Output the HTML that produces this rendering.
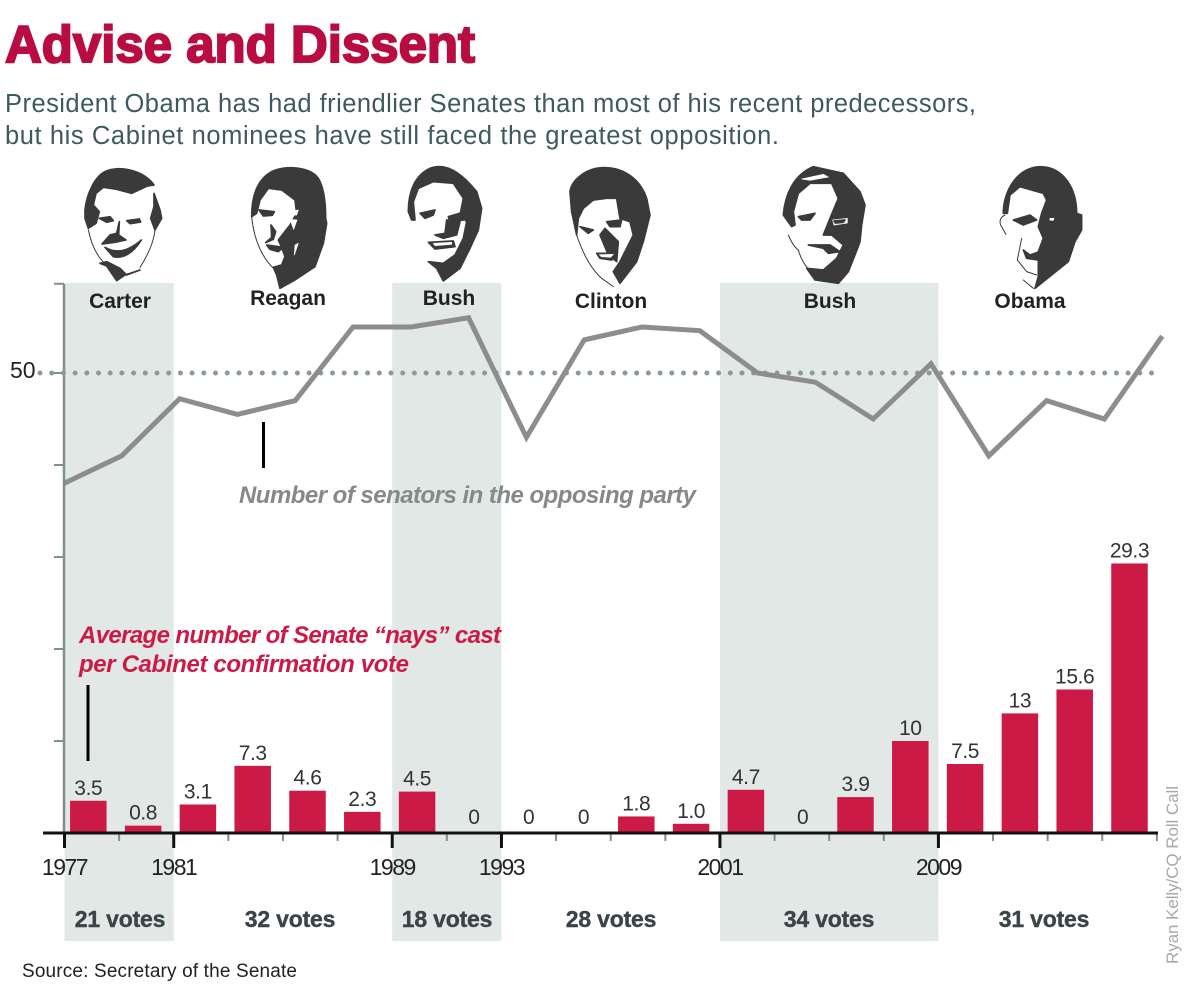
<!DOCTYPE html>
<html lang="en">
<head>
<meta charset="utf-8">
<title>Advise and Dissent</title>
<style>
html,body{margin:0;padding:0;background:#fff;width:1200px;height:1008px;overflow:hidden}
svg{display:block;font-family:"Liberation Sans",sans-serif}
.pres{font-size:21px;font-weight:700;fill:#222;text-anchor:middle}
.votes{font-size:23px;font-weight:700;fill:#3b4547;text-anchor:middle;letter-spacing:-.2px;stroke:#3b4547;stroke-width:.4}
.portrait path.d{fill:#3a3a3a;stroke:#3a3a3a;stroke-width:5;stroke-linejoin:round}
.portrait path.w{fill:#fff;stroke:#fff;stroke-width:2;stroke-linejoin:round}
.portrait path.l{fill:none;stroke:#3a3a3a;stroke-width:3;stroke-linecap:round}
</style>
</head>
<body>
<svg id="chart" width="1200" height="1008" viewBox="0 0 1200 1008" xmlns="http://www.w3.org/2000/svg">
  <g id="bands"></g>

  <text x="5" y="62" font-size="52" font-weight="700" fill="#b80c42" stroke="#b80c42" stroke-width="2" textLength="470" lengthAdjust="spacingAndGlyphs">Advise and Dissent</text>
  <text x="5" y="112" font-size="25.5" fill="#3e5a5c" textLength="971">President Obama has had friendlier Senates than most of his recent predecessors,</text>
  <text x="5" y="144" font-size="25.5" fill="#3e5a5c" textLength="774">but his Cabinet nominees have still faced the greatest opposition.</text>

  <g class="portrait" transform="translate(60,160) scale(.3333)">
    <path class="d" d="M75,150 C80,100 105,50 135,35 C175,15 250,30 282,75 L262,78 L215,100 L170,88 L130,82 L108,100 L100,135 L118,155 L108,190 L85,205 L75,175Z"/>
    <path class="d" d="M282,100 L300,150 L305,175 L285,210 L272,175 L282,140Z"/>
    <path class="d" d="M118,175 L150,170 L160,182 L140,187Z M200,182 L238,177 L242,186 L210,191Z"/>
    <path class="d" d="M178,185 L170,220 L150,225 L126,252 L165,247 L198,240 L176,225Z"/>
    <path class="d" d="M135,262 Q185,292 244,240 Q205,300 160,290Z"/>
    <path class="d" d="M120,310 L140,318 L170,362 L195,345 L240,330 L200,345 L180,325 L140,305Z"/>
    <path class="l" d="M85,210 Q100,280 135,310 M285,210 Q280,260 240,322"/>
  </g>

  <g class="portrait" transform="translate(235,160) scale(.3333)">
    <path class="d" d="M50,170 C50,110 65,60 110,35 C150,15 225,20 250,55 C268,85 272,130 272,175 L275,190 L265,250 L240,320 L180,360 L135,385 L125,345 L115,322 L140,315 L150,290 L140,262 L130,240 L165,195 L185,160 L180,120 L140,90 L100,85 L75,120 L65,160Z"/>
    <path class="w" d="M165,155 L190,150 L185,165 L168,165Z M165,178 L186,180 L176,208Z M180,255 L190,250 L178,285Z"/>
    <path class="d" d="M72,150 L118,155 L112,166 L85,168Z"/>
    <path class="d" d="M108,195 L122,215 L115,238 L92,248 L110,232Z"/>
    <path class="d" d="M95,255 L145,262 L130,275 L105,268Z"/>
    <path class="l" d="M50,170 Q60,270 115,325"/>
  </g>

  <g class="portrait" transform="translate(380,155) scale(.3333)">
    <path class="d" d="M85,170 C85,110 105,60 150,40 C200,20 250,60 290,110 L305,160 L295,225 L270,280 L240,340 L190,378 L170,340 L145,320 L190,325 L225,300 L250,250 L260,200 L240,180 L250,130 L220,85 L160,80 L115,100 L100,140 L105,195 L95,195Z"/>
    <path class="d" d="M120,175 L165,165 L160,180 L135,190Z M205,185 L255,170 L250,195 L210,200Z"/>
    <path class="d" d="M200,195 L195,235 L165,240 L190,250 L230,240 L240,200Z"/>
    <path class="d" d="M145,262 L220,258 L225,275 L165,282Z"/>
    <path class="w" d="M160,265 L215,262 L215,268 L165,272Z"/>
  </g>

  <g class="portrait" transform="translate(380,155) scale(.3333)">
    <path class="d" d="M570,110 C575,75 620,35 680,38 C730,40 780,70 800,130 L810,180 L790,260 L770,320 L720,385 L700,350 L720,320 L760,240 L750,200 L720,190 L710,130 L680,130 L640,135 L610,160 L595,190 L590,240 L575,170Z"/>
    <path class="d" d="M600,215 L640,225 L625,235Z M680,200 L725,195 L720,215 L690,215Z"/>
    <path class="d" d="M675,220 L660,240 L685,300 L710,320 L715,260Z"/>
    <path class="d" d="M650,295 L705,295 L695,315 L660,310Z"/>
    <path class="w" d="M658,299 L700,298 L692,307 L664,305Z"/>
    <path class="l" d="M590,240 Q620,330 665,370 L700,395"/>
  </g>

  <g class="portrait" transform="translate(760,155) scale(.3333)">
    <path class="d" d="M70,180 C75,120 100,60 160,35 L250,55 L300,110 L315,150 L305,210 L300,260 L285,300 L265,350 L235,385 L165,375 L140,340 L190,345 L230,310 L250,270 L215,240 L190,240 L210,190 L235,130 L215,85 L150,85 L115,115 L100,170 L105,210 L95,215Z"/>
    <path class="w" d="M125,72 L190,58 L205,66 L150,76Z M218,195 L262,190 L262,204 L222,210Z"/>
    <path class="d" d="M115,185 L165,175 L150,195 L125,195Z M222,198 L255,195 L250,202 L226,204Z"/>
    <path class="d" d="M145,270 L210,270 L240,290 L205,295 L190,280Z"/>
    <path class="l" d="M85,240 Q100,275 115,285 Q125,320 145,342"/>
  </g>

  <g class="portrait" transform="translate(760,155) scale(.3333)">
    <path class="d" d="M730,175 C730,110 770,38 840,35 C910,35 950,100 950,175 L965,180 L965,225 L945,260 L925,320 L825,400 L835,365 L835,290 L850,250 L835,215 L845,175 L860,135 L850,115 L780,95 L750,120 L742,175Z"/>
    <path class="d" d="M760,195 L810,180 L830,195 L790,210Z"/>
    <path class="d" d="M790,285 L800,310 L835,315 L838,290 L810,300Z"/>
    <path class="w" d="M870,190 L882,190 L880,196 L870,196Z"/>
    <path class="l" d="M735,180 Q715,190 722,210 L738,238 M785,250 Q775,300 772,315 L800,350 L830,360 M790,375 L820,400"/>
  </g>

  <text class="pres" x="120" y="308">Carter</text>
  <text class="pres" x="288" y="305">Reagan</text>
  <text class="pres" x="449" y="305">Bush</text>
  <text class="pres" x="611" y="308">Clinton</text>
  <text class="pres" x="830" y="308">Bush</text>
  <text class="pres" x="1030" y="308">Obama</text>

  <g id="y-axis"></g>
  <text x="10" y="378" font-size="23" fill="#222">50</text>
  <line x1="40" y1="373" x2="1160" y2="373" stroke="#8a9a97" stroke-width="5" stroke-linecap="round" stroke-dasharray="0 11.7"/>
  <g id="senators-line"></g>

  <line x1="263.5" y1="422" x2="263.5" y2="468" stroke="#000" stroke-width="3"/>
  <text x="239" y="503" font-size="24" font-weight="700" font-style="italic" fill="#85898a" textLength="457">Number of senators in the opposing party</text>
  <text x="79" y="643" font-size="24" font-weight="700" font-style="italic" fill="#cc1a47" textLength="422">Average number of Senate “nays” cast</text>
  <text x="79" y="672" font-size="24" font-weight="700" font-style="italic" fill="#cc1a47" textLength="330">per Cabinet confirmation vote</text>
  <line x1="88" y1="685" x2="88" y2="761" stroke="#000" stroke-width="3"/>

  <g id="bars"></g>
  <g id="x-axis"></g>

  <text class="votes" x="120" y="927">21 votes</text>
  <text class="votes" x="290" y="927">32 votes</text>
  <text class="votes" x="447" y="927">18 votes</text>
  <text class="votes" x="611" y="927">28 votes</text>
  <text class="votes" x="829" y="927">34 votes</text>
  <text class="votes" x="1044" y="927">31 votes</text>

  <text x="22" y="977" font-size="19" fill="#222" textLength="275">Source: Secretary of the Senate</text>
  <text x="0" y="0" transform="translate(1178,964) rotate(-90)" font-size="17" fill="#a8a8a8" textLength="178">Ryan Kelly/CQ Roll Call</text>
</svg>

<script>
var termStarts = [1977, 1989, 2001];
var termEnds = [1981, 1993, 2009];
var yTicks = [10, 20, 30, 40, 50, 59.7];
var majorYears = [1977, 1981, 1989, 1993, 2001, 2009];
var congressYears = [1977, 1979, 1981, 1983, 1985, 1987, 1989, 1991, 1993, 1995, 1997, 1999, 2001, 2003, 2005, 2007, 2009, 2011, 2013, 2015];
var naysValues = [3.5, 0.8, 3.1, 7.3, 4.6, 2.3, 4.5, 0, 0, 0, 1.8, 1.0, 4.7, 0, 3.9, 10, 7.5, 13, 15.6, 29.3];
var naysLabels = ["3.5", "0.8", "3.1", "7.3", "4.6", "2.3", "4.5", "0", "0", "0", "1.8", "1.0", "4.7", "0", "3.9", "10", "7.5", "13", "15.6", "29.3"];
var senatorsValues = [38, 41, 47.2, 45.5, 47, 55, 55, 56, 43, 53.6, 55, 54.6, 50, 49, 45, 51, 41, 47, 45, 54];

var NS = 'http://www.w3.org/2000/svg';
function yScale(v) { return 833 - 9.2 * v; }
function yearScale(year) { return 64.5 + 27.31 * (year - 1977); }
function barCenter(i) { return 88.3 + 54.8 * i; }
function lineX(i) { return 64 + 57.8 * i; }
function make(tag, attrs, parent) {
  var el = document.createElementNS(NS, tag);
  for (var k in attrs) el.setAttribute(k, attrs[k]);
  parent.appendChild(el);
  return el;
}

var bandsG = document.getElementById('bands');
termStarts.forEach(function (start, i) {
  var band = make('rect', { x: yearScale(start), y: 283, width: yearScale(termEnds[i]) - yearScale(start), height: 658, fill: '#e1e8e6' }, bandsG);
  
  
});

var yAxisG = document.getElementById('y-axis');
var yLine = make('line', { x1: 64, y1: 284, x2: 64, y2: 833, stroke: '#7f8f8c', 'stroke-width': 2.5 }, yAxisG);


yTicks.forEach(function (t) {
  var tick = make('line', { x1: 54, y1: yScale(t), x2: 64, y2: yScale(t), stroke: '#7f8f8c', 'stroke-width': 2 }, yAxisG);
  
  
});

var lineG = document.getElementById('senators-line');
var pts = senatorsValues.map(function (v, i) { return lineX(i) + ',' + yScale(v); }).join(' ');
var poly = make('polyline', { points: pts, fill: 'none', stroke: '#8d8d8d', 'stroke-width': 5, 'stroke-linejoin': 'miter' }, lineG);



var barsG = document.getElementById('bars');
naysValues.forEach(function (v, i) {
  var cx = barCenter(i);
  var top = yScale(v);
  if (v > 0) {
    var bar = make('rect', { x: cx - 18.25, y: top, width: 36.5, height: 833 - top, fill: '#cc1a47' }, barsG);
    
    
  }
  var label = make('text', { x: v > 0 ? cx : cx + 2, y: v > 0 ? top - 6 : 824, 'font-size': 21, fill: '#333', 'text-anchor': 'middle', 'letter-spacing': '-0.4' }, barsG);
  
  
  label.textContent = naysLabels[i];
});

var xAxisG = document.getElementById('x-axis');
congressYears.concat([2017]).forEach(function (year) {
  if (majorYears.indexOf(year) >= 0) return;
  var tick = make('line', { x1: yearScale(year), y1: 833, x2: yearScale(year), y2: 841, stroke: '#7f8f8c', 'stroke-width': 2 }, xAxisG);
  
  
});
majorYears.forEach(function (year) {
  var x = yearScale(year);
  var tick = make('line', { x1: x, y1: 833, x2: x, y2: 848, stroke: '#111', 'stroke-width': 3 }, xAxisG);
  
  
  var label = make('text', { x: x, y: 875, 'font-size': 23, fill: '#222', 'text-anchor': 'middle', 'letter-spacing': '-1.5' }, xAxisG);
  
  
  label.textContent = year;
});
var baseline = make('line', { x1: 43, y1: 833, x2: 1158, y2: 833, stroke: '#111', 'stroke-width': 3 }, xAxisG);


</script>
</body>
</html>
